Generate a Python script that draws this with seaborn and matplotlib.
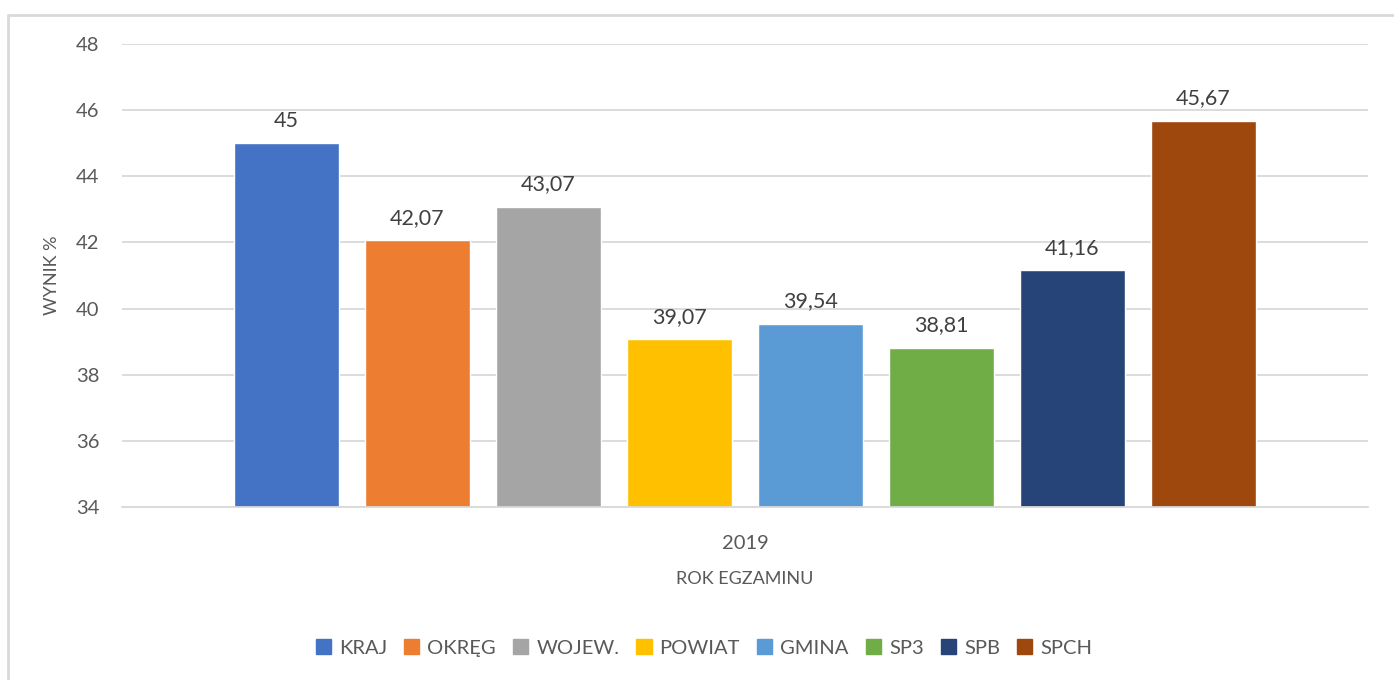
import matplotlib.pyplot as plt
from matplotlib.lines import Line2D
import pandas as pd
import seaborn as sns

# dane z wykresu
jednostki = ['KRAJ', 'OKRĘG', 'WOJEW.', 'POWIAT', 'GMINA', 'SP3', 'SPB', 'SPCH']
wyniki = [45, 42.07, 43.07, 39.07, 39.54, 38.81, 41.16, 45.67]
rok = ['2019'] * len(jednostki)
kolory = ['#4472C4', '#ED7D31', '#A5A5A5', '#FFC000', '#5B9BD5', '#70AD47', '#264478', '#9E480E']

df = pd.DataFrame({'rok': rok, 'jednostka': jednostki, 'wynik': wyniki})

sns.set_style('white')
plt.rcParams['font.family'] = ['Lato', 'DejaVu Sans']
szary = '#595959'

fig = plt.figure(figsize=(13.94, 6.8), dpi=100)
ax = fig.add_axes([0.0875, 0.2544, 0.8938, 0.6809])

sns.barplot(data=df, x='rok', y='wynik', hue='jednostka', palette=kolory,
            saturation=1, gap=0.2, ax=ax, legend=False)

ax.set_ylim(34, 48)
ax.set_yticks(range(34, 49, 2))
ax.set_xlim(-0.4755, 0.4755)
ax.grid(axis='y', color='#d9d9d9', lw=1.3)
ax.set_axisbelow(True)
for s in ['top', 'right', 'left']:
    ax.spines[s].set_visible(False)
ax.spines['bottom'].set_color('#d9d9d9')
ax.spines['bottom'].set_linewidth(1.3)
ax.tick_params(axis='both', length=0, labelsize=14.5, colors=szary)
ax.tick_params(axis='x', pad=20)
ax.tick_params(axis='y', pad=16)

ax.set_xlabel('ROK EGZAMINU', fontsize=13, color=szary, labelpad=14)
ax.set_ylabel('WYNIK %', fontsize=13, color=szary, labelpad=12)

for cont, w in zip(ax.containers, wyniki):
    ax.bar_label(cont, labels=[f'{w:g}'.replace('.', ',')], padding=9,
                 fontsize=15.5, color='#404040')

uchwyty = [plt.Rectangle((0, 0), 1, 1, color=c) for c in kolory]
fig.legend(uchwyty, jednostki, loc='center', bbox_to_anchor=(0.505, 0.047),
           ncol=len(jednostki), frameon=False, fontsize=14.5,
           handlelength=0.75, handleheight=0.75, handletextpad=0.4,
           columnspacing=0.85, labelcolor=szary)

# ramka obszaru wykresu (lewa i górna krawędź)
fig.add_artist(Line2D([0.0057, 0.0057, 1.0], [0.0, 0.978, 0.978],
                      transform=fig.transFigure, color='#d9d9d9', lw=2))

fig.savefig('out.png', dpi=100)
